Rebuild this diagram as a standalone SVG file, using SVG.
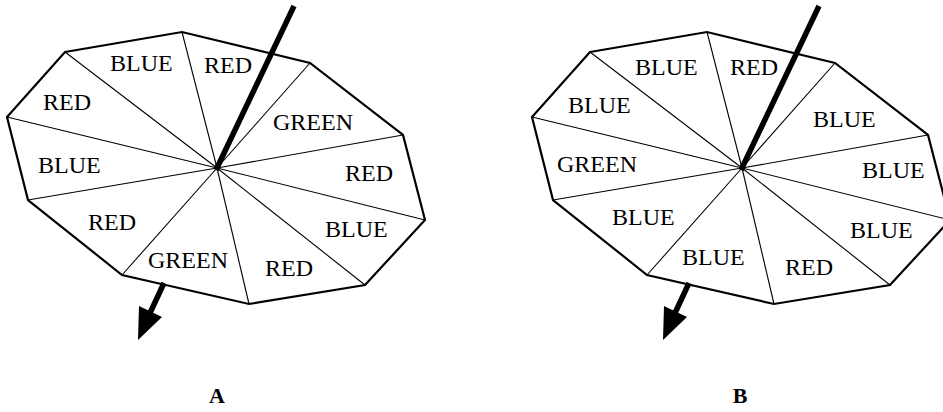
<svg xmlns="http://www.w3.org/2000/svg" width="943" height="412" viewBox="0 0 943 412">
<style>
.bg{fill:#fff}
.outline{fill:none;stroke:#000;stroke-width:2.2;stroke-linejoin:miter}
.spoke{stroke:#000;stroke-width:1.1}
.shaft{stroke:#000;stroke-width:5.5;stroke-linecap:butt}
.head{fill:#000}
.lbl{font-family:"Liberation Serif","Times New Roman",serif;font-size:24px;fill:#000}
.cap{font-family:"Liberation Serif","Times New Roman",serif;font-size:22px;font-weight:bold;fill:#000;text-anchor:middle}
</style>
<defs>
<g id="wheel">
<polygon class="outline" points="65,52 182,32 310,63 403,135 425,220 365,285 249,304 122,275 28,200 7,117"/>
<g class="spokes">
<line class="spoke" x1="217" y1="168" x2="65" y2="52"/>
<line class="spoke" x1="217" y1="168" x2="182" y2="32"/>
<line class="spoke" x1="217" y1="168" x2="310" y2="63"/>
<line class="spoke" x1="217" y1="168" x2="403" y2="135"/>
<line class="spoke" x1="217" y1="168" x2="425" y2="220"/>
<line class="spoke" x1="217" y1="168" x2="365" y2="285"/>
<line class="spoke" x1="217" y1="168" x2="249" y2="304"/>
<line class="spoke" x1="217" y1="168" x2="122" y2="275"/>
<line class="spoke" x1="217" y1="168" x2="28" y2="200"/>
<line class="spoke" x1="217" y1="168" x2="7" y2="117"/>
</g>
<line class="shaft" x1="294" y1="6" x2="216" y2="170"/>
<line class="shaft" x1="164" y1="283" x2="150" y2="313"/>
<polygon class="head" points="138,340 139,306 162,317"/>
</g>
</defs>
<rect class="bg" x="0" y="0" width="943" height="412"/>
<g id="diagramA">
<use href="#wheel"/>
<g id="labelsA" class="labels">
<text class="lbl" x="110" y="71">BLUE</text>
<text class="lbl" x="204" y="73">RED</text>
<text class="lbl" x="43" y="110">RED</text>
<text class="lbl" x="273" y="130">GREEN</text>
<text class="lbl" x="38" y="173">BLUE</text>
<text class="lbl" x="345" y="181">RED</text>
<text class="lbl" x="88" y="230">RED</text>
<text class="lbl" x="325" y="237">BLUE</text>
<text class="lbl" x="148" y="268">GREEN</text>
<text class="lbl" x="265" y="276">RED</text>
</g>
<text class="cap" x="217" y="403">A</text>
</g>
<g id="diagramB">
<use href="#wheel" transform="translate(525,0)"/>
<g id="labelsB" class="labels">
<text class="lbl" x="635" y="75">BLUE</text>
<text class="lbl" x="730" y="75">RED</text>
<text class="lbl" x="568" y="113">BLUE</text>
<text class="lbl" x="813" y="127">BLUE</text>
<text class="lbl" x="557" y="172">GREEN</text>
<text class="lbl" x="862" y="178">BLUE</text>
<text class="lbl" x="612" y="225">BLUE</text>
<text class="lbl" x="850" y="238">BLUE</text>
<text class="lbl" x="682" y="265">BLUE</text>
<text class="lbl" x="785" y="275">RED</text>
</g>
<text class="cap" x="740" y="403">B</text>
</g>
</svg>
